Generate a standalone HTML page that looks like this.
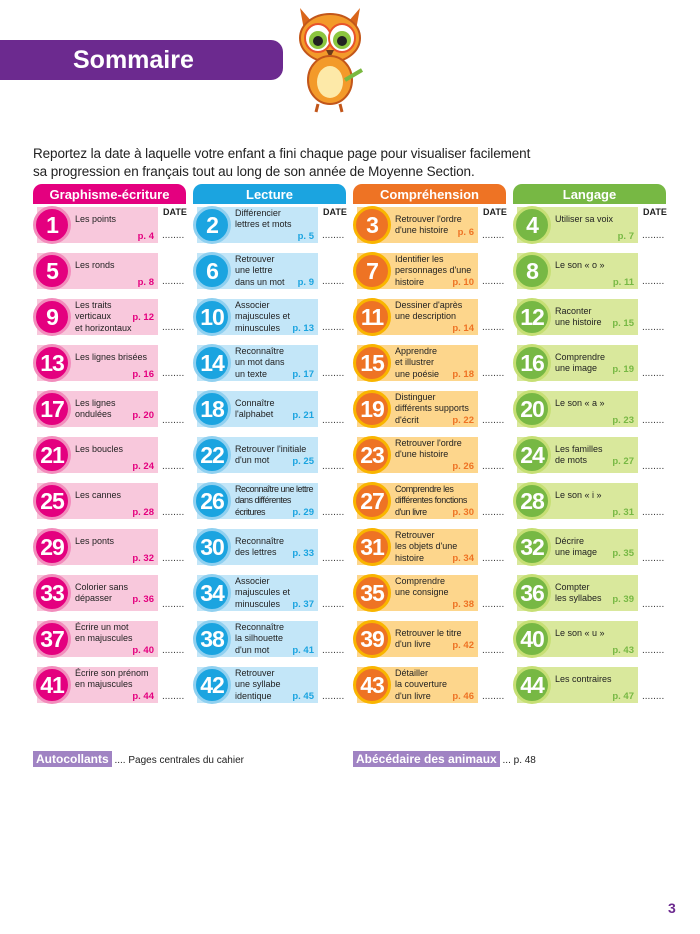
<!DOCTYPE html><html><head><meta charset="utf-8"><style>
body{margin:0;width:700px;height:934px;position:relative;background:#fff;font-family:"Liberation Sans",sans-serif;overflow:hidden}
.a{position:absolute}
.bar{left:0;top:40px;width:283px;height:40px;background:#6c2a8f;border-radius:0 12px 12px 0;color:#fff;font-weight:bold;font-size:25px;line-height:40px;padding-left:73px;box-sizing:border-box}
.intro{left:33px;top:145px;font-size:13.5px;line-height:18px;color:#222;letter-spacing:-0.1px}
.h{top:184px;width:153px;height:20px;border-radius:9px 9px 0 0;color:#fff;font-weight:bold;font-size:13px;text-align:center;line-height:21px}
.c{width:125px;height:36px}
.c .bg{position:absolute;left:4px;top:0;width:121px;height:36px}
.c .n{position:absolute;left:0;top:-1px;width:32px;height:32px;border-radius:50%;border:3px solid;color:#fff;font-weight:bold;font-size:23px;line-height:32px;text-align:center;letter-spacing:-1px}
.c .t{position:absolute;left:42px;top:0;height:36px;width:84px;display:flex;flex-direction:column;justify-content:center;font-size:9px;line-height:11.5px;color:#222;white-space:nowrap}
.c .p{position:absolute;right:4px;bottom:1px;font-size:9.5px;font-weight:bold}
.d{font-size:10px;color:#333;line-height:15.37px}
.dt{font-size:9px;font-weight:bold;color:#222}
.k1 .bg{background:#f8c8dc}.k1 .n{background:#e4007f;border-color:#f28cbc}.k1 .p{color:#e4007f}
.k2 .bg{background:#c3e6f8}.k2 .n{background:#1ba4e0;border-color:#8fd0f0}.k2 .p{color:#1ba4e0}
.k3 .bg{background:#fdd68c}.k3 .n{background:#ee7324;border-color:#f9b500}.k3 .p{color:#ee7324}
.k4 .bg{background:#d9e89c}.k4 .n{background:#77b844;border-color:#c6df74}.k4 .p{color:#77b844}
.lab{background:#a083c3;color:#fff;font-size:12px;padding:1px 3px;font-weight:bold}
</style></head><body>
<div class="a bar">Sommaire</div>
<svg class="a" style="left:290px;top:0" width="80" height="115" viewBox="0 0 80 115">
<path d="M10 8 L22 22 L40 18 L58 22 L70 8 L66 30 L14 30Z" fill="#d9651a"/>
<ellipse cx="40" cy="38" rx="30" ry="24" fill="#f39a2a" stroke="#c2561a" stroke-width="2"/>
<ellipse cx="28" cy="38" rx="13" ry="14" fill="#fff" stroke="#e8532a" stroke-width="2"/>
<ellipse cx="52" cy="38" rx="13" ry="14" fill="#fff" stroke="#e8532a" stroke-width="2"/>
<circle cx="28" cy="40" r="9" fill="#8cc63f"/><circle cx="52" cy="40" r="9" fill="#8cc63f"/>
<circle cx="28" cy="41" r="5" fill="#222"/><circle cx="52" cy="41" r="5" fill="#222"/>
<path d="M36 50 L44 50 L40 58Z" fill="#6b3a1a"/>
<ellipse cx="40" cy="80" rx="22" ry="24" fill="#f39a2a" stroke="#c2561a" stroke-width="2"/>
<ellipse cx="40" cy="82" rx="13" ry="16" fill="#fde9a8"/>
<path d="M28 104 L26 112 M50 104 L52 112" stroke="#c2561a" stroke-width="3"/>
<path d="M55 80 L72 70" stroke="#7ab940" stroke-width="4"/>
</svg>
<div class="a intro">Reportez la date à laquelle votre enfant a fini chaque page pour visualiser facilement<br>sa progression en français tout au long de son année de Moyenne Section.</div>
<div class="a h" style="left:33px;background:#e4007f">Graphisme-écriture</div>
<div class="a h" style="left:193px;background:#1ba4e0">Lecture</div>
<div class="a h" style="left:353px;background:#ee7324">Compréhension</div>
<div class="a h" style="left:513px;background:#77b844">Langage</div>
<div class="a dt" style="left:163px;top:207px">DATE</div>
<div class="a dt" style="left:323px;top:207px">DATE</div>
<div class="a dt" style="left:483px;top:207px">DATE</div>
<div class="a dt" style="left:643px;top:207px">DATE</div>

<div class="a c k1" style="left:33px;top:207px"><div class="bg"></div><div class="n">1</div><div class="t">Les points<br>&nbsp;</div><div class="p">p. 4</div></div>
<div class="a c k2" style="left:193px;top:207px"><div class="bg"></div><div class="n">2</div><div class="t">Différencier<br>lettres et mots<br>&nbsp;</div><div class="p">p. 5</div></div>
<div class="a c k3" style="left:353px;top:207px"><div class="bg"></div><div class="n">3</div><div class="t">Retrouver l'ordre<br>d'une histoire</div><div class="p" style="bottom:5px">p. 6</div></div>
<div class="a c k4" style="left:513px;top:207px"><div class="bg"></div><div class="n">4</div><div class="t">Utiliser sa voix<br>&nbsp;</div><div class="p">p. 7</div></div>

<div class="a c k1" style="left:33px;top:253px"><div class="bg"></div><div class="n">5</div><div class="t">Les ronds<br>&nbsp;</div><div class="p">p. 8</div></div>
<div class="a c k2" style="left:193px;top:253px"><div class="bg"></div><div class="n">6</div><div class="t">Retrouver<br>une lettre<br>dans un mot</div><div class="p">p. 9</div></div>
<div class="a c k3" style="left:353px;top:253px"><div class="bg"></div><div class="n">7</div><div class="t">Identifier les<br>personnages d'une<br>histoire</div><div class="p">p. 10</div></div>
<div class="a c k4" style="left:513px;top:253px"><div class="bg"></div><div class="n">8</div><div class="t">Le son « o »<br>&nbsp;</div><div class="p">p. 11</div></div>

<div class="a c k1" style="left:33px;top:299px"><div class="bg"></div><div class="n">9</div><div class="t">Les traits<br>verticaux<br>et horizontaux</div><div class="p" style="bottom:12px">p. 12</div></div>
<div class="a c k2" style="left:193px;top:299px"><div class="bg"></div><div class="n">10</div><div class="t">Associer<br>majuscules et<br>minuscules</div><div class="p">p. 13</div></div>
<div class="a c k3" style="left:353px;top:299px"><div class="bg"></div><div class="n">11</div><div class="t">Dessiner d'après<br>une description<br>&nbsp;</div><div class="p">p. 14</div></div>
<div class="a c k4" style="left:513px;top:299px"><div class="bg"></div><div class="n">12</div><div class="t">Raconter<br>une histoire</div><div class="p" style="bottom:6px">p. 15</div></div>

<div class="a c k1" style="left:33px;top:345px"><div class="bg"></div><div class="n">13</div><div class="t">Les lignes brisées<br>&nbsp;</div><div class="p">p. 16</div></div>
<div class="a c k2" style="left:193px;top:345px"><div class="bg"></div><div class="n">14</div><div class="t">Reconnaître<br>un mot dans<br>un texte</div><div class="p">p. 17</div></div>
<div class="a c k3" style="left:353px;top:345px"><div class="bg"></div><div class="n">15</div><div class="t">Apprendre<br>et illustrer<br>une poésie</div><div class="p">p. 18</div></div>
<div class="a c k4" style="left:513px;top:345px"><div class="bg"></div><div class="n">16</div><div class="t">Comprendre<br>une image</div><div class="p" style="bottom:6px">p. 19</div></div>

<div class="a c k1" style="left:33px;top:391px"><div class="bg"></div><div class="n">17</div><div class="t">Les lignes<br>ondulées</div><div class="p" style="bottom:6px">p. 20</div></div>
<div class="a c k2" style="left:193px;top:391px"><div class="bg"></div><div class="n">18</div><div class="t">Connaître<br>l'alphabet</div><div class="p" style="bottom:6px">p. 21</div></div>
<div class="a c k3" style="left:353px;top:391px"><div class="bg"></div><div class="n">19</div><div class="t">Distinguer<br>différents supports<br>d'écrit</div><div class="p">p. 22</div></div>
<div class="a c k4" style="left:513px;top:391px"><div class="bg"></div><div class="n">20</div><div class="t">Le son « a »<br>&nbsp;</div><div class="p">p. 23</div></div>

<div class="a c k1" style="left:33px;top:437px"><div class="bg"></div><div class="n">21</div><div class="t">Les boucles<br>&nbsp;</div><div class="p">p. 24</div></div>
<div class="a c k2" style="left:193px;top:437px"><div class="bg"></div><div class="n">22</div><div class="t">Retrouver l'initiale<br>d'un mot</div><div class="p" style="bottom:6px">p. 25</div></div>
<div class="a c k3" style="left:353px;top:437px"><div class="bg"></div><div class="n">23</div><div class="t">Retrouver l'ordre<br>d'une histoire<br>&nbsp;</div><div class="p">p. 26</div></div>
<div class="a c k4" style="left:513px;top:437px"><div class="bg"></div><div class="n">24</div><div class="t">Les familles<br>de mots</div><div class="p" style="bottom:6px">p. 27</div></div>

<div class="a c k1" style="left:33px;top:483px"><div class="bg"></div><div class="n">25</div><div class="t">Les cannes<br>&nbsp;</div><div class="p">p. 28</div></div>
<div class="a c k2" style="left:193px;top:483px"><div class="bg"></div><div class="n">26</div><div class="t" style="letter-spacing:-0.5px">Reconnaître une lettre<br>dans différentes<br>écritures</div><div class="p">p. 29</div></div>
<div class="a c k3" style="left:353px;top:483px"><div class="bg"></div><div class="n">27</div><div class="t" style="letter-spacing:-0.4px">Comprendre les<br>différentes fonctions<br>d'un livre</div><div class="p">p. 30</div></div>
<div class="a c k4" style="left:513px;top:483px"><div class="bg"></div><div class="n">28</div><div class="t">Le son « i »<br>&nbsp;</div><div class="p">p. 31</div></div>

<div class="a c k1" style="left:33px;top:529px"><div class="bg"></div><div class="n">29</div><div class="t">Les ponts<br>&nbsp;</div><div class="p">p. 32</div></div>
<div class="a c k2" style="left:193px;top:529px"><div class="bg"></div><div class="n">30</div><div class="t">Reconnaître<br>des lettres</div><div class="p" style="bottom:6px">p. 33</div></div>
<div class="a c k3" style="left:353px;top:529px"><div class="bg"></div><div class="n">31</div><div class="t">Retrouver<br>les objets d'une<br>histoire</div><div class="p">p. 34</div></div>
<div class="a c k4" style="left:513px;top:529px"><div class="bg"></div><div class="n">32</div><div class="t">Décrire<br>une image</div><div class="p" style="bottom:6px">p. 35</div></div>

<div class="a c k1" style="left:33px;top:575px"><div class="bg"></div><div class="n">33</div><div class="t">Colorier sans<br>dépasser</div><div class="p" style="bottom:6px">p. 36</div></div>
<div class="a c k2" style="left:193px;top:575px"><div class="bg"></div><div class="n">34</div><div class="t">Associer<br>majuscules et<br>minuscules</div><div class="p">p. 37</div></div>
<div class="a c k3" style="left:353px;top:575px"><div class="bg"></div><div class="n">35</div><div class="t">Comprendre<br>une consigne<br>&nbsp;</div><div class="p">p. 38</div></div>
<div class="a c k4" style="left:513px;top:575px"><div class="bg"></div><div class="n">36</div><div class="t">Compter<br>les syllabes</div><div class="p" style="bottom:6px">p. 39</div></div>

<div class="a c k1" style="left:33px;top:621px"><div class="bg"></div><div class="n">37</div><div class="t">Écrire un mot<br>en majuscules<br>&nbsp;</div><div class="p">p. 40</div></div>
<div class="a c k2" style="left:193px;top:621px"><div class="bg"></div><div class="n">38</div><div class="t">Reconnaître<br>la silhouette<br>d'un mot</div><div class="p">p. 41</div></div>
<div class="a c k3" style="left:353px;top:621px"><div class="bg"></div><div class="n">39</div><div class="t">Retrouver le titre<br>d'un livre</div><div class="p" style="bottom:6px">p. 42</div></div>
<div class="a c k4" style="left:513px;top:621px"><div class="bg"></div><div class="n">40</div><div class="t">Le son « u »<br>&nbsp;</div><div class="p">p. 43</div></div>

<div class="a c k1" style="left:33px;top:667px"><div class="bg"></div><div class="n">41</div><div class="t">Écrire son prénom<br>en majuscules<br>&nbsp;</div><div class="p">p. 44</div></div>
<div class="a c k2" style="left:193px;top:667px"><div class="bg"></div><div class="n">42</div><div class="t">Retrouver<br>une syllabe<br>identique</div><div class="p">p. 45</div></div>
<div class="a c k3" style="left:353px;top:667px"><div class="bg"></div><div class="n">43</div><div class="t">Détailler<br>la couverture<br>d'un livre</div><div class="p">p. 46</div></div>
<div class="a c k4" style="left:513px;top:667px"><div class="bg"></div><div class="n">44</div><div class="t">Les contraires<br>&nbsp;</div><div class="p">p. 47</div></div>

<div class="a d" style="left:162px;top:228px">........<br><br><br>........<br><br><br>........<br><br><br>........<br><br><br>........<br><br><br>........<br><br><br>........<br><br><br>........<br><br><br>........<br><br><br>........<br><br><br>........</div>
<div class="a d" style="left:322px;top:228px">........<br><br><br>........<br><br><br>........<br><br><br>........<br><br><br>........<br><br><br>........<br><br><br>........<br><br><br>........<br><br><br>........<br><br><br>........<br><br><br>........</div>
<div class="a d" style="left:482px;top:228px">........<br><br><br>........<br><br><br>........<br><br><br>........<br><br><br>........<br><br><br>........<br><br><br>........<br><br><br>........<br><br><br>........<br><br><br>........<br><br><br>........</div>
<div class="a d" style="left:642px;top:228px">........<br><br><br>........<br><br><br>........<br><br><br>........<br><br><br>........<br><br><br>........<br><br><br>........<br><br><br>........<br><br><br>........<br><br><br>........<br><br><br>........</div>

<div class="a" style="left:33px;top:752px;font-size:10px;color:#222"><span class="lab">Autocollants</span> .... Pages centrales du cahier</div>
<div class="a" style="left:353px;top:752px;font-size:10px;color:#222"><span class="lab">Abécédaire des animaux</span> ... p. 48</div>
<div class="a" style="left:668px;top:900px;font-size:14px;font-weight:bold;color:#6c2a8f">3</div>
</body></html>
